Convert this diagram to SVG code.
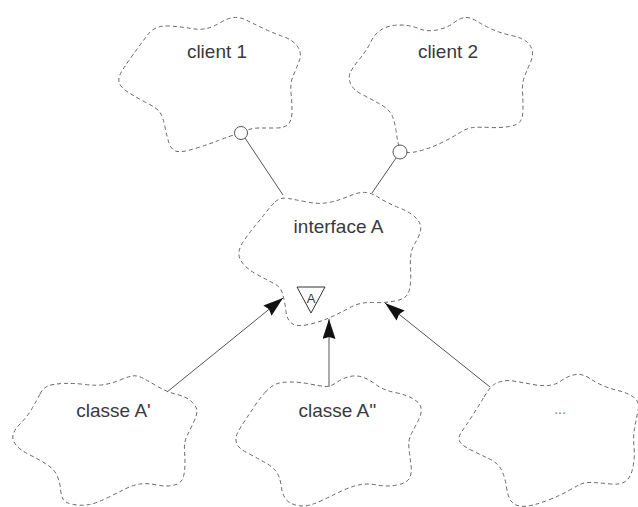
<svg xmlns="http://www.w3.org/2000/svg" width="638" height="507" viewBox="0 0 638 507">
  <style>
    .cloud { fill: none; stroke: #666; stroke-width: 1; stroke-dasharray: 4 3; }
    .lbl { font-family: "Liberation Sans", Arial, Helvetica, sans-serif; font-size: 19px; fill: #3a3a3a; text-anchor: middle; }
    .conn { stroke: #555; stroke-width: 1; fill: none; }
    .iface { fill: #fff; stroke: #555; stroke-width: 1; }
  </style>
  <defs>
    <marker id="arrow" markerUnits="userSpaceOnUse" markerWidth="22" markerHeight="14" refX="20" refY="6.5" orient="auto">
      <path d="M0,0 L20,6.5 L0,13 L2,6.5 z" fill="#111"/>
    </marker>
  </defs>
  <rect width="638" height="507" fill="#fff"/>

  <g id="connectors">
    <line class="conn" x1="245" y1="138" x2="283" y2="195"/>
    <line class="conn" x1="396" y1="158" x2="372" y2="193"/>
    <line class="conn" x1="167" y1="392" x2="283" y2="298" marker-end="url(#arrow)"/>
    <line class="conn" x1="329" y1="387" x2="329" y2="319" marker-end="url(#arrow)"/>
    <line class="conn" x1="490" y1="387" x2="385" y2="303" marker-end="url(#arrow)"/>
  </g>

  <g id="client1">
    <path class="cloud" d="M147.5,35 Q155,25 169,26 Q183,27 191.5,28.5 Q200,30 206.5,28.5 Q213,27 220.5,22.5 Q228,18 234,17.5 Q240,17 246,20 Q252,23 262.5,28 Q273,33 283,36.5 Q293,40 297.5,46.5 Q302,53 299.5,60 Q297,67 293.5,75 Q290,83 291,93 Q292,103 292,111.5 Q292,120 288.5,124 Q285,128 276,128 Q267,128 259.5,128 Q252,128 246.5,130.5 Q241,133 235.5,134.5 Q230,136 218.5,140.5 Q207,145 193.5,149 Q180,153 175.5,151 Q171,149 169,143 Q167,137 165,127 Q163,117 160,112.5 Q157,108 147,103 Q137,98 128.5,92.5 Q120,87 119,82 Q118,77 122.5,70 Q127,63 133.5,54 Q140,45 147.5,35 Z"/>
    <circle class="iface" cx="241" cy="133" r="6.5"/>
    <text class="lbl" x="217" y="58">client 1</text>
  </g>

  <g id="client2">
    <path class="cloud" d="M371,41.5 Q375,33 382.5,29 Q390,25 400,25 Q410,25 418.5,28.5 Q427,32 437,30 Q447,28 453.5,23 Q460,18 465,17.5 Q470,17 476.5,21 Q483,25 491.5,29 Q500,33 511.5,35.5 Q523,38 527.5,42.5 Q532,47 532.5,52 Q533,57 530,63.5 Q527,70 524.5,76.5 Q522,83 522.5,91.5 Q523,100 523,108.5 Q523,117 520.5,121 Q518,125 509,126.5 Q500,128 490,127.5 Q480,127 473.5,127.5 Q467,128 460,132.5 Q453,137 443,142 Q433,147 423,150 Q413,153 406.5,152.5 Q400,152 398.5,145 Q397,138 396,130.5 Q395,123 392.5,116.5 Q390,110 381.5,105 Q373,100 363,95 Q353,90 350.5,83.5 Q348,77 350.5,72 Q353,67 360,58.5 Q367,50 371,41.5 Z"/>
    <circle class="iface" cx="400" cy="152" r="7"/>
    <text class="lbl" x="448" y="58">client 2</text>
  </g>

  <g id="interfaceA">
    <path class="cloud" d="M275,202 Q280,197 288.5,198.5 Q297,200 307,202 Q317,204 325,203 Q333,202 340,199.5 Q347,197 353.5,194.5 Q360,192 366,192.5 Q372,193 379.5,198 Q387,203 398.5,207.5 Q410,212 416,218 Q422,224 420.5,230.5 Q419,237 415.5,242.5 Q412,248 411,254 Q410,260 410.5,267.5 Q411,275 410.5,282.5 Q410,290 407.5,294.5 Q405,299 395,301 Q385,303 372.5,302.5 Q360,302 350,307.5 Q340,313 330,317.5 Q320,322 308.5,324.5 Q297,327 292,323.5 Q287,320 286,311.5 Q285,303 283,295 Q281,287 274,283.5 Q267,280 257,274.5 Q247,269 242.5,263 Q238,257 239,251.5 Q240,246 245,239 Q250,232 255,226 Q260,220 265,213.5 Q270,207 275,202 Z"/>
    <text class="lbl" x="338.5" y="233">interface A</text>
    <polygon points="297,287 325,287 311,313" fill="#fff" stroke="#333" stroke-width="1"/>
    <text class="lbl" x="311" y="303" style="font-size:13px">A</text>
  </g>

  <g id="classeA1">
    <path class="cloud" d="M40,394 Q43,388 48,386 Q53,384 63,383.5 Q73,383 85,384.5 Q97,386 105,384.5 Q113,383 120,380 Q127,377 132,376 Q137,375 143.5,378.5 Q150,382 158.5,387 Q167,392 177,394.5 Q187,397 192,402 Q197,407 197,411 Q197,415 193.5,422.5 Q190,430 187,436 Q184,442 184.5,449.5 Q185,457 185,463.5 Q185,470 183.5,476.5 Q182,483 174.5,485 Q167,487 157,485 Q147,483 140,484 Q133,485 125,489 Q117,493 107,498 Q97,503 89.5,504.5 Q82,506 73.5,504.5 Q65,503 63,499 Q61,495 60.5,489 Q60,483 57.5,476.5 Q55,470 47.5,465 Q40,460 30,455 Q20,450 16,445 Q12,440 13,435 Q14,430 20.5,423.5 Q27,417 32,408.5 Q37,400 40,394 Z"/>
    <text class="lbl" x="113.5" y="417">classe A'</text>
  </g>

  <g id="classeA2">
    <path class="cloud" d="M265,392.5 Q270,387 275,384.5 Q280,382 290,382 Q300,382 310,384 Q320,386 325,386.5 Q330,387 336.5,382.5 Q343,378 350,376.5 Q357,375 363.5,377.5 Q370,380 376.5,385 Q383,390 395,392.5 Q407,395 413.5,399 Q420,403 421,408 Q422,413 418.5,420 Q415,427 411.5,433.5 Q408,440 409,448.5 Q410,457 411,465 Q412,473 409.5,478 Q407,483 397,485 Q387,487 377,485 Q367,483 358.5,485 Q350,487 341.5,491 Q333,495 325,499 Q317,503 310,505 Q303,507 295.5,505 Q288,503 285,498 Q282,493 281,485 Q280,477 276.5,472 Q273,467 265,462.5 Q257,458 247.5,453 Q238,448 236.5,443 Q235,438 237.5,433 Q240,428 245,420.5 Q250,413 255,405.5 Q260,398 265,392.5 Z"/>
    <text class="lbl" x="337.5" y="417">classe A''</text>
  </g>

  <g id="classeEtc">
    <path class="cloud" d="M484,397 Q490,387 494,384.5 Q498,382 503,381 Q508,380 516.5,381.5 Q525,383 533,384.5 Q541,386 548,385.5 Q555,385 560,381.5 Q565,378 570,376 Q575,374 580,374.5 Q585,375 590,378.5 Q595,382 601.5,385 Q608,388 618,390.5 Q628,393 634,397.5 Q640,402 638,411 Q636,420 634.5,428.5 Q633,437 634,447 Q635,457 633,467 Q631,477 626,481 Q621,485 611,484 Q601,483 593,482.5 Q585,482 580,484.5 Q575,487 568,491 Q561,495 551,499 Q541,503 533,505 Q525,507 519.5,506 Q514,505 511,501 Q508,497 506.5,487 Q505,477 501.5,470 Q498,463 489.5,459 Q481,455 471,450 Q461,445 459.5,441 Q458,437 461.5,432 Q465,427 471.5,417 Q478,407 484,397 Z"/>
    <text class="lbl" x="560" y="414" style="font-size:14px;fill:#777">...</text>
  </g>
</svg>
